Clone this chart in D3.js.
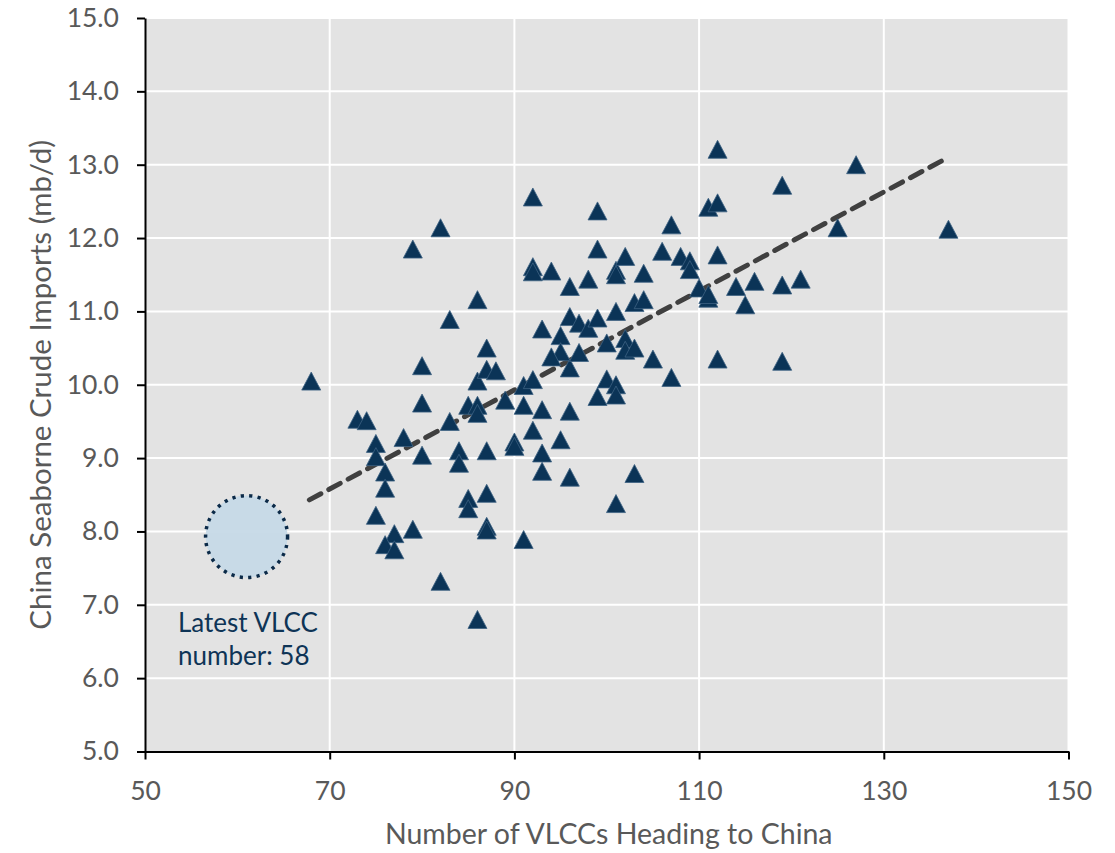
<!DOCTYPE html>
<html>
<head>
<meta charset="utf-8">
<script src="https://cdn.jsdelivr.net/npm/d3@7"></script>
<style>
  html, body { margin: 0; padding: 0; background: #ffffff; }
  svg { display: block; font-family: Lato, "Open Sans", sans-serif; }
</style>
</head>
<body>
<svg id="chart" width="1115" height="853"></svg>
<script>
// ---- data ----
const vlccCount = [68,73,74,75,75,76,76,78,80,80,75,77,76,77,79,82,83,84,84,87,85,86,86,89,85,85,87,87,87,86,86,90,90,91,82,79,86,83,87,87,88,80,112,92,99,107,111,112,92,92,94,96,98,99,101,102,104,106,108,109,109,112,110,111,111,114,96,97,98,99,101,103,104,93,95,95,94,96,97,100,102,102,103,105,107,112,91,92,100,101,99,101,91,93,96,92,95,93,93,96,103,101,127,119,125,137,116,115,119,121,119,101];
const importsMbd = [10.05,9.53,9.51,9.20,9.02,8.81,8.59,9.28,9.75,9.04,8.22,7.97,7.82,7.75,8.03,7.32,9.50,9.10,8.93,9.10,9.72,9.72,9.61,9.79,8.45,8.31,8.52,8.07,8.02,6.80,10.05,9.22,9.16,7.89,12.14,11.85,11.16,10.89,10.50,10.21,10.19,10.26,13.21,12.56,12.37,12.18,12.42,12.48,11.61,11.54,11.55,11.34,11.44,11.85,11.56,11.75,11.52,11.82,11.75,11.69,11.57,11.77,11.32,11.18,11.23,11.34,10.93,10.84,10.77,10.91,11.00,11.12,11.16,10.76,10.67,10.45,10.38,10.23,10.44,10.57,10.63,10.47,10.50,10.35,10.10,10.35,9.99,10.07,10.08,10.00,9.84,9.86,9.72,9.66,9.64,9.38,9.25,9.07,8.82,8.74,8.79,8.38,13.00,12.72,12.14,12.12,11.41,11.09,11.36,11.44,10.32,11.50];
const trendX = [67.8, 136.4];
const trendY = [8.43, 13.06];
const latestX = [61.0];
const latestY = [7.93];
const annotationLines = ["Latest VLCC", "number: 58"];
const xTicks = [50, 70, 90, 110, 130, 150];
const yTicks = [5, 6, 7, 8, 9, 10, 11, 12, 13, 14, 15];
const xTitle = "Number of VLCCs Heading to China";
const yTitle = "China Seaborne Crude Imports (mb/d)";

// ---- layout ----
const svg = d3.select("#chart");
const L = 145, R = 1068.5, T = 18, B = 751.5;
const x = d3.scaleLinear().domain([50, 150]).range([L, R]);
const y = d3.scaleLinear().domain([5, 15]).range([B, T]);
const textGray = "#595959";
const navy = "#0b3457";

// plot background
svg.append("rect").attr("x", L).attr("y", T).attr("width", R - L).attr("height", B - T)
  .attr("fill", "#e3e3e3");

// gridlines
svg.append("g").selectAll("line.v").data(xTicks.slice(1)).join("line")
  .attr("x1", d => x(d)).attr("x2", d => x(d)).attr("y1", T).attr("y2", B)
  .attr("stroke", "#ffffff").attr("stroke-width", 2);
svg.append("g").selectAll("line.h").data(yTicks.slice(1)).join("line")
  .attr("x1", L).attr("x2", R).attr("y1", d => y(d)).attr("y2", d => y(d))
  .attr("stroke", "#ffffff").attr("stroke-width", 2);

// axes
const xAxis = d3.axisBottom(x).tickValues(xTicks).tickSizeInner(8).tickSizeOuter(0).tickPadding(22)
  .tickFormat(d3.format("d"));
const yAxis = d3.axisLeft(y).tickValues(yTicks).tickSizeInner(8).tickSizeOuter(0).tickPadding(18)
  .tickFormat(d3.format(".1f"));

const gx = svg.append("g").attr("transform", `translate(0,${B})`).call(xAxis);
const gy = svg.append("g").attr("transform", `translate(${L},0)`).call(yAxis);
[gx, gy].forEach(g => {
  g.select(".domain").attr("stroke", "#000").attr("stroke-width", 2);
  g.selectAll(".tick line").attr("stroke", "#000").attr("stroke-width", 2);
  g.selectAll(".tick text").attr("fill", textGray).attr("font-size", 26.5)
    .attr("font-family", "Lato, 'Open Sans', sans-serif");
});

// axis titles
svg.append("text").attr("x", (L + R) / 2 + 2).attr("y", 844)
  .attr("text-anchor", "middle").attr("fill", textGray).attr("font-size", 28.5)
  .text(xTitle);
svg.append("text").attr("transform", `translate(51,${(T + B) / 2}) rotate(-90)`)
  .attr("text-anchor", "middle").attr("fill", textGray).attr("font-size", 29.5)
  .text(yTitle);

// trend line
svg.append("line")
  .attr("x1", x(trendX[0])).attr("y1", y(trendY[0]))
  .attr("x2", x(trendX[1])).attr("y2", y(trendY[1]))
  .attr("stroke", "#404040").attr("stroke-width", 5)
  .attr("stroke-dasharray", "13 9").attr("stroke-linecap", "round");

// triangles
const w = 19, h = 18;
const tri = `M0,${-h/2}L${w/2},${h/2}L${-w/2},${h/2}Z`;
svg.append("g").selectAll("path").data(vlccCount.map((v, i) => [v, importsMbd[i]])).join("path")
  .attr("d", tri)
  .attr("transform", d => `translate(${x(d[0])},${y(d[1])})`)
  .attr("fill", navy).attr("stroke", "#3d6283").attr("stroke-width", 0.8);

// latest marker
svg.append("circle")
  .attr("cx", x(latestX[0])).attr("cy", y(latestY[0])).attr("r", 41)
  .attr("fill", "#c6d9e7").attr("fill-opacity", 0.95)
  .attr("stroke", "#0b2a48").attr("stroke-width", 3.5).attr("stroke-dasharray", "3.2 5.3");

// annotation
const ann = svg.append("text").attr("fill", "#0e3456").attr("font-size", 26);
annotationLines.forEach((t, i) => {
  ann.append("tspan").attr("x", 178).attr("y", 632 + i * 33).text(t);
});
</script>
</body>
</html>
